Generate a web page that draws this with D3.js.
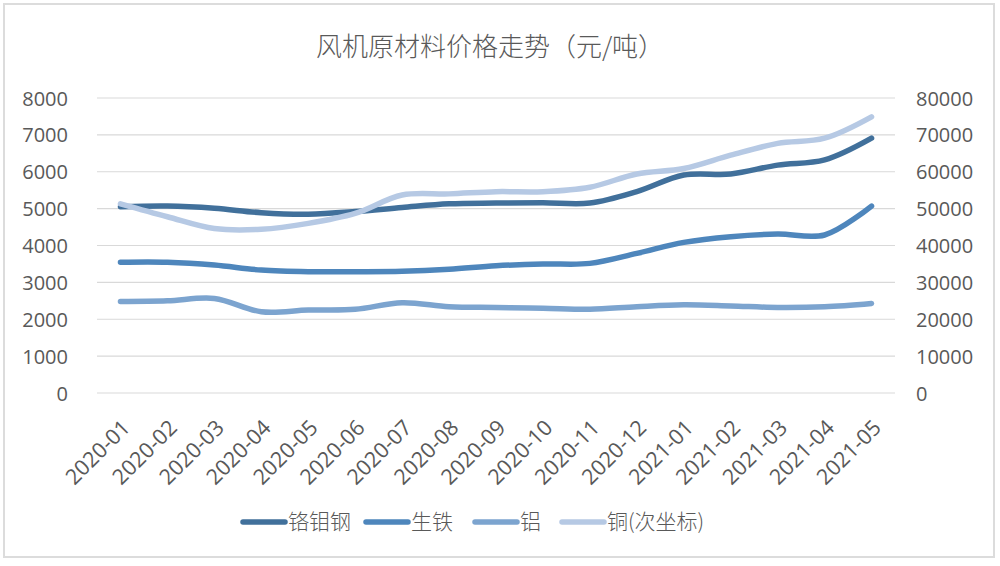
<!DOCTYPE html>
<html>
<head>
<meta charset="utf-8">
<script src="https://cdn.jsdelivr.net/npm/d3@7"></script>
<style>
  html, body { margin: 0; padding: 0; background: #fff; }
  svg { display: block; }
  text { font-family: "Open Sans", "Noto Sans CJK SC", sans-serif; fill: #595959; }
</style>
</head>
<body>
<svg id="chart" width="1000" height="566"></svg>
<script>
const categories = ["2020-01","2020-02","2020-03","2020-04","2020-05","2020-06","2020-07","2020-08","2020-09","2020-10","2020-11","2020-12","2021-01","2021-02","2021-03","2021-04","2021-05"];
const crMoSteel = [5050,5070,5010,4890,4850,4920,5030,5130,5150,5160,5150,5460,5910,5940,6180,6320,6910];
const pigIron   = [3545,3545,3470,3335,3290,3290,3300,3355,3450,3500,3515,3785,4085,4240,4310,4285,5070];
const aluminium = [2480,2500,2565,2205,2250,2270,2450,2340,2320,2300,2270,2340,2390,2360,2320,2340,2430];
const copper    = [51300,47800,44600,44400,46000,48700,53700,54000,54600,54600,55800,59400,60900,64500,67700,69100,74900];
const leftTicks  = [0,1000,2000,3000,4000,5000,6000,7000,8000];
const rightTicks = [0,10000,20000,30000,40000,50000,60000,70000,80000];
const seriesNames = ["铬钼钢","生铁","铝","铜(次坐标)"];
const title = "风机原材料价格走势（元/吨）";

const colors = ["#41709b","#4e86bc","#7ca4cf","#b6c9e4"];

const svg = d3.select("#chart");

svg.append("rect").attr("x",4).attr("y",4).attr("width",990).attr("height",553)
  .attr("fill","#fff").attr("stroke","#dcdcdc").attr("stroke-width",2);

const x = d3.scaleBand().domain(categories).range([97, 895]).padding(0);
const yL = d3.scaleLinear().domain([0,8000]).range([393, 98]);
const yR = d3.scaleLinear().domain([0,80000]).range([393, 98]);

// title
svg.append("text").attr("x", 490).attr("y", 56).attr("text-anchor","middle")
  .style("font-family", '"Noto Sans CJK SC", sans-serif').style("font-size","26px").style("font-weight","300")
  .text(title);

// gridlines
svg.append("g").selectAll("line").data(leftTicks).join("line")
  .attr("x1", 97).attr("x2", 895)
  .attr("y1", d => yL(d)).attr("y2", d => yL(d))
  .attr("stroke","#d9d9d9").attr("stroke-width",1.2);

// left axis
const axL = svg.append("g").attr("transform","translate(97,0)")
  .call(d3.axisLeft(yL).tickValues(leftTicks).tickSize(0).tickPadding(29).tickFormat(d3.format("d")));
axL.select(".domain").remove();
axL.selectAll("text").style("font-size","20px").style("fill","#595959").attr("dy","0.35em");

// right axis
const axR = svg.append("g").attr("transform","translate(895,0)")
  .call(d3.axisRight(yR).tickValues(rightTicks).tickSize(0).tickPadding(21).tickFormat(d3.format("d")));
axR.select(".domain").remove();
axR.selectAll("text").style("font-size","20px").style("fill","#595959").attr("dy","0.35em");

// x axis labels
const axX = svg.append("g").attr("transform","translate(0,393)")
  .call(d3.axisBottom(x).tickSize(0).tickPadding(0));
axX.select(".domain").remove();
axX.selectAll("text")
  .style("font-size","21.5px").style("fill","#595959")
  .attr("text-anchor","end")
  .attr("transform","translate(11,36) rotate(-45)")
  .attr("y",0).attr("dy","0");

// lines
const cx = d => x(d) + x.bandwidth()/2;
const lineL = d3.line().x((d,i) => cx(categories[i])).y(d => yL(d)).curve(d3.curveCatmullRom.alpha(0.5));
const lineR = d3.line().x((d,i) => cx(categories[i])).y(d => yR(d)).curve(d3.curveCatmullRom.alpha(0.5));

const lines = [
  {data: aluminium, gen: lineL, c: colors[2]},
  {data: pigIron, gen: lineL, c: colors[1]},
  {data: crMoSteel, gen: lineL, c: colors[0]},
  {data: copper, gen: lineR, c: colors[3]}
];
svg.append("g").selectAll("path").data(lines).join("path")
  .attr("d", d => d.gen(d.data))
  .attr("fill","none").attr("stroke", d => d.c)
  .attr("stroke-width",5.5).attr("stroke-linecap","round").attr("stroke-linejoin","round");

// legend
const legendX = [243, 366, 475, 562];
const lg = svg.append("g").selectAll("g").data(seriesNames).join("g")
  .attr("transform", (d,i) => `translate(${legendX[i]},522)`);
lg.append("line").attr("x1",0).attr("x2",42).attr("y1",0).attr("y2",0)
  .attr("stroke",(d,i)=>colors[i]).attr("stroke-width",5.5).attr("stroke-linecap","round");
lg.append("text").attr("x",45).attr("y",0).attr("dy","0.35em")
  .style("font-family",'"Noto Sans CJK SC", sans-serif').style("font-size","21px").style("font-weight","300")
  .text(d=>d);
</script>
</body>
</html>
